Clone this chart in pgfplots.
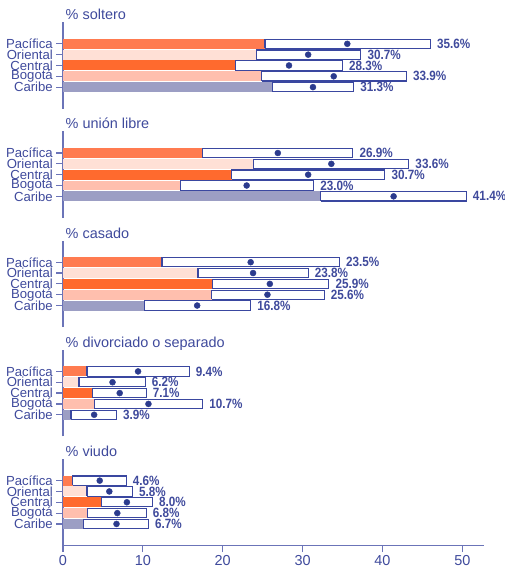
\documentclass[border=0pt]{standalone}
\usepackage{pgfplots}
\pgfplotsset{compat=1.18}
\usepackage{fontspec}
\setmainfont{Liberation Sans}
\newfontfamily\valfont[FakeStretch=0.87]{Liberation Sans}
\definecolor{txt}{HTML}{3F4A9C}
\definecolor{axl}{HTML}{6B74B8}
\definecolor{boxc}{HTML}{3A47A0}
\definecolor{dotc}{HTML}{2C3B8E}
\definecolor{cPac}{HTML}{FF7B50}
\definecolor{cOri}{HTML}{FFE0D6}
\definecolor{cCen}{HTML}{FF6A2E}
\definecolor{cBog}{HTML}{FFBFAE}
\definecolor{cCar}{HTML}{9C9EC4}

% y position, lower bound, upper bound
\newcommand\cibox[3]{%
  \pgfmathsetmacro\ya{#1-0.43}\pgfmathsetmacro\yb{#1+0.43}%
  \edef\temp{\noexpand\addplot[draw=boxc, fill=white, line width=1.1bp] coordinates {(#2,\ya) (#3,\ya) (#3,\yb) (#2,\yb) (#2,\ya)};}\temp}
% estimates: Pacifica, Oriental, Central, Bogota, Caribe
\newcommand\bars[5]{%
  \addplot[xbar, bar shift=0pt, bar width=0.92, fill=cPac, draw=none] coordinates {(#1,4)};
  \addplot[xbar, bar shift=0pt, bar width=0.92, fill=cOri, draw=none] coordinates {(#2,3)};
  \addplot[xbar, bar shift=0pt, bar width=0.92, fill=cCen, draw=none] coordinates {(#3,2)};
  \addplot[xbar, bar shift=0pt, bar width=0.92, fill=cBog, draw=none] coordinates {(#4,1)};
  \addplot[xbar, bar shift=0pt, bar width=0.92, fill=cCar, draw=none] coordinates {(#5,0)};
}

\pgfplotsset{
  panel/.style={
    x=7.986bp, y=10.83bp,
    xmin=0, xmax=52.7, ymin=-2, ymax=6,
    axis y line*=left,
    clip=false,
    ytick={0,1,2,3,4},
    yticklabels={Caribe,Bogotá,Central,Oriental,Pacífica},
    tick align=outside,
    major tick length=6.5bp,
    tick style={axl, line width=1.2bp},
    axis line style={axl, line width=1.3bp},
    yticklabel style={font=\fontsize{13.2}{13.2}\selectfont, text=txt, inner sep=1bp, xshift=-2.5bp},
    title style={at={(0,1)}, anchor=base west, yshift=-3.5pt, xshift=2.5bp, inner sep=0pt,
      font=\fontsize{14.5}{14.5}\selectfont, text=txt},
    anchor=south west,
  },
  noxax/.style={axis x line=none},
  lab/.style={draw=none, nodes near coords, point meta=explicit symbolic,
    every node near coord/.append style={anchor=west, inner sep=0pt, xshift=6.5bp,
      font=\valfont\bfseries\fontsize{13.5}{13.5}\selectfont, text=txt}},
  dots/.style={only marks, mark=*, mark size=3bp, mark options={draw=dotc, fill=dotc}},
}

\begin{document}
\begin{tikzpicture}
\useasboundingbox (-63bp,-459.2bp) rectangle (442bp,108.8bp);
% ---------- soltero ----------
\begin{axis}[panel, noxax, at={(0,0)}, title={\% soltero}]
\bars{35.6}{30.7}{28.3}{33.9}{31.3}
\cibox{4}{25.3}{46.0}
\cibox{3}{24.2}{37.3}
\cibox{2}{21.6}{35.0}
\cibox{1}{24.9}{43.0}
\cibox{0}{26.2}{36.4}
\addplot[dots] coordinates {(35.6,4) (30.7,3) (28.3,2) (33.9,1) (31.3,0)};
\addplot[lab] coordinates {(46.0,4) [35.6\%] (37.3,3) [30.7\%] (35.0,2) [28.3\%] (43.0,1) [33.9\%] (36.4,0) [31.3\%]};
\end{axis}
% ---------- union libre ----------
\begin{axis}[panel, noxax, at={(0,-109.2bp)}, title={\% unión libre}]
\bars{26.9}{33.6}{30.7}{23.0}{41.4}
\cibox{4}{17.5}{36.3}
\cibox{3}{23.9}{43.3}
\cibox{2}{21.1}{40.3}
\cibox{1}{14.7}{31.4}
\cibox{0}{32.3}{50.5}
\addplot[dots] coordinates {(26.9,4) (33.6,3) (30.7,2) (23.0,1) (41.4,0)};
\addplot[lab] coordinates {(36.3,4) [26.9\%] (43.3,3) [33.6\%] (40.3,2) [30.7\%] (31.4,1) [23.0\%] (50.5,0) [41.4\%]};
\end{axis}
% ---------- casado ----------
\begin{axis}[panel, noxax, at={(0,-218.4bp)}, title={\% casado}]
\bars{23.5}{23.8}{25.9}{25.6}{16.8}
\cibox{4}{12.4}{34.6}
\cibox{3}{16.9}{30.7}
\cibox{2}{18.7}{33.3}
\cibox{1}{18.6}{32.7}
\cibox{0}{10.2}{23.5}
\addplot[dots] coordinates {(23.5,4) (23.8,3) (25.9,2) (25.6,1) (16.8,0)};
\addplot[lab] coordinates {(34.6,4) [23.5\%] (30.7,3) [23.8\%] (33.3,2) [25.9\%] (32.7,1) [25.6\%] (23.5,0) [16.8\%]};
\end{axis}
% ---------- divorciado ----------
\begin{axis}[panel, noxax, at={(0,-327.6bp)}, title={\% divorciado o separado}]
\bars{9.4}{6.2}{7.1}{10.7}{3.9}
\cibox{4}{3.0}{15.8}
\cibox{3}{2.0}{10.3}
\cibox{2}{3.7}{10.4}
\cibox{1}{3.9}{17.5}
\cibox{0}{1.0}{6.7}
\addplot[dots] coordinates {(9.4,4) (6.2,3) (7.1,2) (10.7,1) (3.9,0)};
\addplot[lab] coordinates {(15.8,4) [9.4\%] (10.3,3) [6.2\%] (10.4,2) [7.1\%] (17.5,1) [10.7\%] (6.7,0) [3.9\%]};
\end{axis}
% ---------- viudo ----------
\begin{axis}[panel, at={(0,-436.8bp)}, title={\% viudo},
  axis x line*=bottom, xtick={0,10,20,30,40,50},
  xticklabel style={font=\fontsize{14.5}{14.5}\selectfont, text=txt},
  /pgf/number format/assume math mode=true]
\bars{4.6}{5.8}{8.0}{6.8}{6.7}
\cibox{4}{1.2}{7.9}
\cibox{3}{3.0}{8.7}
\cibox{2}{4.8}{11.2}
\cibox{1}{3.1}{10.4}
\cibox{0}{2.6}{10.7}
\addplot[dots] coordinates {(4.6,4) (5.8,3) (8.0,2) (6.8,1) (6.7,0)};
\addplot[lab] coordinates {(7.9,4) [4.6\%] (8.7,3) [5.8\%] (11.2,2) [8.0\%] (10.4,1) [6.8\%] (10.7,0) [6.7\%]};
\end{axis}
\end{tikzpicture}
\end{document}
